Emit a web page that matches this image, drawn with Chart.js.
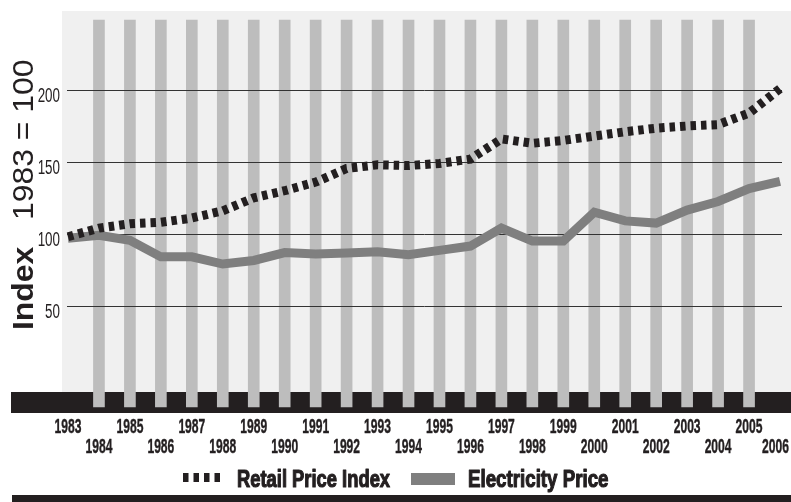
<!DOCTYPE html>
<html>
<head>
<meta charset="utf-8">
<script src="https://cdn.jsdelivr.net/npm/chart.js@4/dist/chart.umd.min.js"></script>
<style>
  html, body { margin: 0; padding: 0; background: #fff; }
  #wrap { width: 791px; height: 502px; position: relative; }
</style>
</head>
<body>
<div id="wrap"><canvas id="c"></canvas></div>
<script>
// values (index, 1983 = 100)
const years = [
  "1983", "1984", "1985", "1986", "1987", "1988", "1989", "1990",
  "1991", "1992", "1993", "1994", "1995", "1996", "1997", "1998",
  "1999", "2000", "2001", "2002", "2003", "2004", "2005", "2006",
];
const retailPriceIndex = [
  98, 104, 107, 108, 111, 116, 125, 130,
  136, 145.5, 148, 147.5, 149, 152, 166, 163,
  165, 168, 171, 173.5, 175, 176, 184, 201,
];
const electricityPrice = [
  97, 99, 95.5, 84, 84, 79, 81.5, 87,
  86, 86.7, 87.5, 85.5, 88.5, 91.5, 104, 95,
  95, 115, 109, 107.5, 116.5, 122.5, 131.5, 136.5,
];
const yTicks = [50, 100, 150, 200];
const seriesNames = ["Retail Price Index", "Electricity Price"];
// grey background columns on every inner year (from/to in index units)
const columnSpan = [-20.4, 248.7];

const INK = "#231f20";
const ELEC = "#7f7f7f";
const COLUMN = "#bdbdbd";
const PANEL = "#f0f0f0";
const DASH = [5.5, 5];

function scaledText(ctx, text, x, y, font, sx, align, heavy) {
  ctx.save();
  ctx.translate(x, y);
  ctx.scale(sx, 1);
  ctx.font = font;
  ctx.textAlign = align || "left";
  ctx.textBaseline = "alphabetic";
  ctx.fillText(text, 0, 0);
  if (heavy) {
    // fake a blacker weight
    ctx.strokeStyle = ctx.fillStyle;
    ctx.lineWidth = heavy;
    ctx.lineJoin = "round";
    ctx.strokeText(text, 0, 0);
  }
  ctx.restore();
}

const frame = {
  id: "frame",
  beforeDatasetsDraw(chart) {
    const { ctx, scales: { y } } = chart;
    ctx.save();
    ctx.fillStyle = PANEL;
    ctx.fillRect(62, 11, 791 - 62, y.getPixelForValue(-10) - 11);
    ctx.fillStyle = INK;
    const bandTop = y.getPixelForValue(-10);
    ctx.fillRect(11, bandTop, 791 - 11, 21);
    ctx.fillRect(12, 495, 791 - 12, 7);
    ctx.restore();
  },
  afterDatasetDraw(chart, args) {
    if (chart.data.datasets[args.index].type !== "bar") return;
    // grid lines sit above the grey columns, below the two series
    const { ctx, scales: { y } } = chart;
    ctx.save();
    ctx.strokeStyle = "#333";
    ctx.lineWidth = 1;
    yTicks.forEach((v) => {
      const py = Math.round(y.getPixelForValue(v)) + 0.5;
      ctx.beginPath();
      ctx.moveTo(67, py);
      ctx.lineTo(782, py);
      ctx.stroke();
    });
    ctx.restore();
  },
  afterDraw(chart) {
    const { ctx, scales: { x, y } } = chart;
    ctx.save();
    ctx.fillStyle = INK;

    // y tick labels
    yTicks.forEach((v) => {
      const py = y.getPixelForValue(v);
      scaledText(ctx, String(v), 60, py + 12, "20px 'Liberation Sans', Arial, sans-serif", 0.67, "right");
    });

    // staggered year labels
    const xFont = "bold 19.5px 'Liberation Sans', Arial, sans-serif";
    ctx.font = xFont;
    years.forEach((lab, i) => {
      let px = x.getPixelForValue(i);
      const half = (ctx.measureText(lab).width * 0.62) / 2;
      if (px + half > 789) px = 789 - half;
      const base = i % 2 === 0 ? 433 : 453;
      scaledText(ctx, lab, px, base, xFont, 0.62, "center", 0.4);
      ctx.font = xFont;
    });

    // y title, rotated
    ctx.save();
    ctx.translate(33, 330);
    ctx.rotate(-Math.PI / 2);
    scaledText(ctx, "Index", 0, 0, "bold 29px 'Liberation Sans', Arial, sans-serif", 1.1);
    ctx.restore();
    ctx.save();
    ctx.translate(33, 220);
    ctx.rotate(-Math.PI / 2);
    scaledText(ctx, "1983 = 100", 0, 0, "29px 'Liberation Sans', Arial, sans-serif", 1.1);
    ctx.restore();

    // legend
    const lFont = "bold 24px 'Liberation Sans', Arial, sans-serif";
    ctx.strokeStyle = INK;
    ctx.lineWidth = 9;
    ctx.setLineDash(DASH);
    ctx.beginPath();
    ctx.moveTo(183, 477.5);
    ctx.lineTo(223, 477.5);
    ctx.stroke();
    ctx.setLineDash([]);
    scaledText(ctx, seriesNames[0], 237, 487, lFont, 0.765, "left", 1.2);
    ctx.fillStyle = ELEC;
    ctx.fillRect(411, 473, 44, 12);
    ctx.fillStyle = INK;
    scaledText(ctx, seriesNames[1], 468, 487, lFont, 0.78, "left", 1.2);
    ctx.restore();
  },
};

new Chart(document.getElementById("c").getContext("2d"), {
  type: "line",
  data: {
    labels: years,
    datasets: [
      {
        type: "line",
        label: seriesNames[0],
        data: retailPriceIndex,
        borderColor: INK,
        borderWidth: 9,
        borderDash: DASH,
        borderCapStyle: "butt",
        pointRadius: 0,
        tension: 0,
        clip: false,
        order: 1,
      },
      {
        type: "line",
        label: seriesNames[1],
        data: electricityPrice,
        borderColor: ELEC,
        borderWidth: 9,
        borderJoinStyle: "miter",
        pointRadius: 0,
        tension: 0,
        clip: false,
        order: 2,
      },
      {
        type: "bar",
        label: "columns",
        data: years.map((_, i) => (i > 0 && i < years.length - 1 ? columnSpan : null)),
        backgroundColor: COLUMN,
        barThickness: 11,
        clip: false,
        order: 3,
      },
    ],
  },
  options: {
    responsive: true,
    maintainAspectRatio: false,
    animation: false,
    layout: { padding: { left: 68, right: 11, top: 11, bottom: 110 } },
    scales: {
      x: { display: false, offset: false },
      y: { display: false, min: -10, max: 255 },
    },
    plugins: {
      legend: { display: false },
      tooltip: { enabled: false },
    },
  },
  plugins: [frame],
});
</script>
</body>
</html>
